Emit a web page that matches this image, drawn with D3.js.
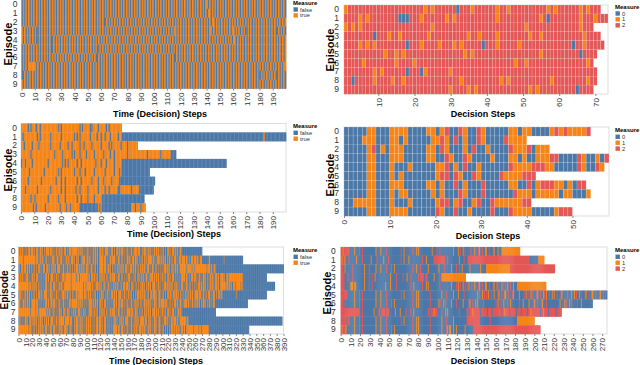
<!DOCTYPE html>
<html>
<head>
<meta charset="utf-8">
<script src="https://cdn.jsdelivr.net/npm/d3@7"></script>
<style>
  body { margin: 0; background: #fff; }
  svg { display: block; font-family: "Liberation Sans", Arial, sans-serif; }
</style>
</head>
<body>
<svg id="chart" width="640" height="365"></svg>
<script>
// episodes on the y axis, measure values in the legends
var episodes = ["0", "1", "2", "3", "4", "5", "6", "7", "8", "9"];
var binaryLabels = ["false", "true"];
var triLabels = ["0", "1", "2"];

// one string per episode: b = false / 0, o = true / 1, r = 2, optional run length after the letter
var p1Rows = [
  "bobobobobo bobobobobo bobobobobo bobobobobo bobobobobo bobobobobo bobobobobo bobobobobo bobobobobo bobobobobo" +
  "bobobobobo bobobobobo bobobobobo bobobobobo obobobobob obobobobob obobobobob obobobobob obobobobob obobobobob",
  "bobobobobo bobobobobo bobobobobo bobobobobo bobobobobo bobobobobo bobobobobo bobobobobo bobobobobo bobobobobo" +
  "bobobobobo bobobobobo bobobobobo bobobobobo boobobobob obobobobob obobobobob obobobobob obobobobob obobobobob",
  "bobobobobo bobobobobo bobobobobo bobobobobo bobobobobo bobobobobo bobbobobob obobobobob obobobobob obobobobob" +
  "obobobobob obobobobob obobobobob obobobobob oboboobobo bobobobobo bobobobobo bobobobobo bobobobobo bobobobobo",
  "obobobobob obbobobobo bobobobobo bobobobobo bobobobobo bobobobobo bobobobobo bobobobobo bobobobobo bobobobobo" +
  "bobobobobo boboboobob obobobobob obobobobob oboobobobo bobobobobo obobobobob bobobobobo bobobobobo bobbobobob",
  "obobobobob obbobobobo bobbobobob obobobobob obobobobob obobobobob obobobobob obobobobob obobobobob obobobobob" +
  "obobobobob obobobobob obobobobob obobobobob obobobobob obobobobob oobobobobo bobobobobo bobobobobo bobobobobo",
  "bobobobobo bobobobobo bobbobobob obobobobob obobobobob obobobobbo bobobobobo bobobobobo bobobobobo bobobobobo" +
  "bobobobobo bobobobobo bobobobobo bobobobobo bobobobobo bobobobobo bobobobobo bobobobobo bobobobobo bobobobobo",
  "bobobobobo bobobobobo bobobobobo bobobobobo bobobobobo bobobobbob obobobobob obobobobob obobobobob obobobobob" +
  "obobobobob obobobbobo bobobobobo bobobobobo bobobobobo bobobobobo bobobobobo bobobobobo bobobobobo bobobobobo",
  "bobobooooo obobobobob obobobobob obobobobob obobobobob obobobobob obobobobob obobobobob obobobobob obobobobob" +
  "obobobobob obobobobob obobobobob obobobobob obobobobob obobobobob obobobobob obobobobob obobobobob oboboboboo",
  "bbobobobob obobobobob obobobobob obobobobob obobobobob obobobobob obobobobob obobobobob obobobobob obobobobob" +
  "obobobobob obobobobob obobobobob obobobobob obobobobob obobobobob obobobobob obobobobob bobobobobo bobbobobob",
  "obobobobob obobobobob obobobobob obobobobob obobobobob obobobobob obobobobob obobobobob obobobobob obobobobob" +
  "obobobobob obobobobob obobobobob obobobobob obobobobob obobobobob obobobobob obobobobob obobobobob obobobobob"
];

var p2Rows = [
  "o r21 o r o r6 b r3 o r6 o r2 o r10 o r o r6 o r o r3",
  "r4 o r o r8 b3 r3 o r6 o r o r11 o r11 o r b r8 o r3 o r3",
  "o r o r o r19 o r25 o r14 o r3",
  "r8 b r3 o r2 o r7 o r10 o r2 o r4 o r8 o r2 o r11 o r4",
  "r4 o r o r o r8 b r3 o r4 o r3 o r o r5 b r3 o r5 o r14 b r2 o r5",
  "r11 o r2 o r o r16 o r o r18 o r10 b r4",
  "r5 o r8 o r4 o r27 o r2 o r16 o r",
  "r8 o r o r6 b r3 b o r6 o r40",
  "r2 b r5 o r4 o r2 o r15 o r10 o r o r11 o r9 o r2",
  "r29 o r4 o r o r14 o r o r10 b r4"
];

var p3Rows = [
  "o5 b o b o3 b o2 b o13 b o b o13 b o b o5 b b o4 b o5 b o b o9",
  "o b o10 b o b o7 b o7 b o9 b o b o b o7 b o4 b o2 b o2 b o3 b o5 b o2 b107 o b16",
  "o2 b o5 b o4 b o8 b o6 b o5 b o2 b o5 b o2 b o5 b o6 b o5 b o b o6 b o4 b o7",
  "o7 b o17 b o5 b o6 b o b o3 b o4 b o5 b o6 b o4 b o2 b o9 b o14 b o9 b o7 b4",
  "b o2 b o4 b o11 b o10 b o b o b o6 b o2 b o10 b o3 b o3 b o5 b o5 b79",
  "o6 b o10 b o10 b o b o9 b o3 b o3 b o6 b o7 b o6 b o3 b o b21",
  "o5 b o9 b o10 b o3 b o2 b o8 b o2 b o7 b o4 b o3 b o5 b o5 b27",
  "o3 b o8 b o9 b o7 b o2 b o7 b o2 b o5 b o7 b o4 b o2 b o6 b2 o8 b o5 b11",
  "o7 b o2 b o9 b o7 b o4 b o8 b o2 b o4 b o4 b o5 b32",
  "o9 b o b o6 b o10 b o4 b o2 b o6 b14 o b o b22 o3 b o3 b o3"
];

var p4Rows = [
  "b5 o2 b3 o4 b4 o2 b o r b2 r o b2 r o b5 o2 b o2 b4 o r o r o4 r",
  "b4 o3 b3 o2 b o b5 o2 r o b r b o b2 r o b4 r o4",
  "b5 o r b o b o3 b5 o2 b r o b3 o b r b2 o b4 r o3 r b o3",
  "b5 o2 b3 o3 b5 o2 b2 r o b2 r o b4 o b3 o2 b o b2 o3 r2 b4 r o b2 o b r",
  "b5 o2 b3 o b3 o b5 o2 r b o b r b2 o b6 r o4 r3 o2 b5 r o b2 r o",
  "b5 o2 b3 o b o b7 o r2 b r o b2 r o b4 r o4 r3",
  "b5 o2 b3 o3 b5 o2 b o b2 r b o b3 r b5 o2 b2 r b o r3 o2 b o b r2",
  "b5 o2 b3 o b o2 b5 o b o b3 r o b3 r b6 r o3 b o5 b o2 b3 o",
  "b2 o5 b3 o b3 o b5 o r2 b o r b2 o r b2 r o6 r2",
  "b5 o2 b3 o4 b6 r o b2 r b2 o b4 r b3 r o4 b5 o r3"
];

var p5Rows = [
  "obooboobbo bobboooboo oobobbooob booobobbob ooooobooob obobboobob ooboobbooo bboboooobo oooooooboo boobobobbo " +
  "bobobbobbo obooboobbo ooboobbooo oobobbooob bobboooboo booobobbob obobboobob ooooobooob bboboooobo boobobobbo " +
  "obooboobbo bobobbobbo oobobbooob ooboobbooo b30",
  "oooooooboo oooooooooo ooooobooob obooboobbo bobobbobbo oobobbooob booobobbob ooboobbooo obobboobob bboboooobo " +
  "boobobobbo obooboobbo ooooobooob bobboooboo oobobbooob bobobbobbo ooboobbooo booobobbob obobboobob oooooooboo " +
  "bboboooobo obooboobbo boobobobbo oobobbooob ooooobooob bobboooboo ooboobbooo b10 o2 b20 o b27",
  "bobboooboo obooboobbo bobobbobbo oobobbooob booobobbob ooboobbooo obobboobob boobobobbo bboboooobo obooboobbo " +
  "oobobbooob bobobbobbo ooooobooob booobobbob obobboobob ooboobbooo bobboooboo boobobobbo obooboobbo oobobbooob " +
  "bobobbobbo bboboooobo obobboobob ooboobbooo oooooooboo ooooobooob oooooooooo oooooooboo ooboobbooo b100",
  "obooboobbo booobobbob oobobbooob bobobbobbo ooboobbooo obobboobob bboboooobo oooooooboo ooooobooob oooooooooo " +
  "ooboobbooo boobobobbo obooboobbo bobboooboo oobobbooob bobobbobbo booobobbob obobboobob ooboobbooo bboboooobo " +
  "obooboobbo boobobobbo oobobbooob bobobbobbo ooooobooob bobboooboo obobboobob booobobbob obooboobbo ooboobbooo " +
  "oobobbooob o20 b35",
  "oooooooooo ooooobooob obooboobbo bobobbobbo oobobbooob booobobbob ooboobbooo oooooooboo oooooooooo ooooobooob " +
  "oooooooboo bboboooobo obobboobob boobobobbo obooboobbo bobboooboo oobobbooob bobobbobbo booobobbob ooboobbooo " +
  "obobboobob bboboooobo obooboobbo boobobobbo oobobbooob bobobbobbo bobboooboo booobobbob obooboobbo ooboobbooo " +
  "ooooobooob oobobbooob oooooooboo b47",
  "booobobbob obooboobbo bobobbobbo ooboobbooo oobobbooob obobboobob bboboooobo boobobobbo bobboooboo ooooobooob " +
  "obooboobbo bobobbobbo booobobbob oobobbooob ooboobbooo obobboobob boobobobbo bboboooobo obooboobbo bobboooboo " +
  "oobobbooob bobobbobbo ooboobbooo booobobbob obobboobob obooboobbo ooooobooob boobobobbo oobobbooob bobboooboo " +
  "b20 o b44",
  "oobobbooob obooboobbo ooooobooob bobobbobbo ooboobbooo booobobbob obobboobob bobboooboo oooooooboo boobobobbo " +
  "bboboooobo obooboobbo oobobbooob bobobbobbo ooboobbooo booobobbob obobboobob obooboobbo bobboooboo boobobobbo " +
  "oobobbooob ooooobooob bobobbobbo ooboobbooo bboboooobo obobboobob obooboobbo booobobbob oobobbooob b47",
  "oooooooooo oooooooboo ooooobooob oooooooooo obooboobbo bobobbobbo oobobbooob booobobbob ooboobbooo obobboobob " +
  "bboboooobo boobobobbo obooboobbo bobboooboo oobobbooob bobobbobbo ooooobooob booobobbob obobboobob ooboobbooo " +
  "obooboobbo boobobobbo oobobbooob bobboooboo b50",
  "bobobbobbo oobobbooob obooboobbo booobobbob ooboobbooo obobboobob oooooooboo ooooobooob bboboooobo boobobobbo " +
  "obooboobbo bobboooboo oobobbooob bobobbobbo booobobbob ooboobbooo obobboobob obooboobbo ooooobooob boobobobbo " +
  "oobobbooob bboboooobo bobboooboo ooboobbooo oooooooboo b138",
  "oooooooooo ooooobooob bobobbobbo obooboobbo oobobbooob booobobbob ooboobbooo obobboobob bboboooobo boobobobbo " +
  "obooboobbo bobboooboo oobobbooob bobobbobbo ooooobooob booobobbob obobboobob ooboobbooo obooboobbo boobobobbo " +
  "oobobbooob bobobbobbo bboboooobo obooboobbo ooboobbooo oooooooboo ooooobooob oooooooooo b59"
];

var p6Rows = [
  "rrorrrrrrb bbbbobbbbr bbrbbbbbbb bbbbbbobbb bobbbbbrbb bbbbbbbbbb bbrbbobbbb bbbbrbbbob obbbbbbbbb bbbbobbbbr " +
  "bbrbbbbbbb bbbbbbobbb bobrbbobrb bbbbrbbbob bbrobbrbbo obbrbbbrob bbobbb o19",
  "rorrobbbrb bbbbbbobbb bbrbbbbbbb bobbbbbrbb bbbbobbbbr bbbbbbbbbb bbrbbobbbb obbbbbbbbb bbbbrbbbob bbbbbb r12 " +
  "bbrbbbbbbb bbbbobbbbr bbb r64 b9 o6",
  "rrrbobbbbb bbrbbbbbbb bbbbobbbbr bbbbbbobbb bobbbbbrbb bbrbbobbbb bbbbbbbbbb bbbbrbbbob bbrbbbbbbb obbbbbbbbb " +
  "bobbbbbrbb bbbbobbbbr bbrbbobbbb bbbobbbbbb bbbbobbbbb o25 r46",
  "rrrrbbbrbb bbrbbbbbbb bbbbobbbbr bbrbbobbbb bbbbbbbbbb bobbbbbrbb bbbbrbbbob bbrbbbbbbb rbrrrrbrrr bbbbbbobbb " +
  "bbrb o25",
  "rrrrbbbbbb oooboobbbb bbbbobbbbr bbrbbbbbbb bbbbbbobbb bobbbbbrbb bbbbbbbbbb bbrbbobbbb bbbbrbbbob obbbbbbbbb " +
  "bbrbbbbbbb bbbbobbbbr bobrbbobrb rbobbrbbob bbrobbrbbo obbrbbbrob bobrbbobrb rbobbrbbob bb o30",
  "rrrrrrrbbb bbbbobbbbr bbrbbbbbbb bbbbbbobbb bobbbbbrbb bbbbbbbbbb bbrbbobbbb bbbbrbbbob obbbbbbbbb bbrbbbbbbb " +
  "bbbbobbbbr bbbbbbobbb bobbbbbrbb bbbbbbbbbb bobrbbobrb rbobbrbbob bbrobbrbbo obbrbbbrob bbbbobbbbr bobrbbobrb " +
  "bbrobbrbbo rbobbrbbob obbrbbbrob bbbbrbbbob bobrbbobrb bbrobbrbbo obbrbbbrob brbrb",
  "rrrbrbbbbb bbbbobbbbr bbrbbbbbbb bbbbbbobbb bobbbbbrbb bbrbbobbbb bbbbbbbbbb bbbbrbbbob obbbbbbbbb bbrbbbbbbb " +
  "bobrbbobrb bbbbobbbbr bbbbbbobbb bbrobbrbbo bobbbbbrbb bbbbbbbbbb rbobbrbbob bbrbbobbbb bbbbrbbbob bbbbobbbbr " +
  "obbrbbbrob bbrbbbbbbb bbbbbbobbb bobrbbobrb bbbbrbbbob bbbbbbbbbb",
  "r20 bbrbbbbbbb bbbbobbbbr rbrrrrbrrr bbbbbbobbb bobbbbbrbb bbrbbobbbb bbbbbbbbbb rrbrrrorrr bbbbrbbbob " +
  "obbbbbbbbb bbrbbbbbbb rrbrrrorrr rrrrbrrrrr rbrrrrbrrr rrrrrrbrro rrrrbrrrrr rbrrrrbrrr rrbrrrorrr rrrrrrbrro " +
  "rrrrbrrrrr rrbrrrrr",
  "rrrrrrbrrb bbbbobbbbr bbrbbbbbbb bbbbbbobbb bobbbbbrbb bbbbbbbbbb bbrbbobbbb bbbbrbbbob obbbbbbbbb bbrbbbbbbb " +
  "bbbbobbbbr bbbbbbobbb bbbbbbbbbb r14 b10 r b27 o18",
  "rorrrobbbb bbbbobbbbr bbrbbbbbbb bbbbbbobbb bobbbbbrbb bbrbbobbbb bbbbbbbbbb bbbbrbbbob obbbbbbbbb bbrbbbbbbb " +
  "bbbbobbbbr oboobbobbo b8 o b8 r69"
];

// tick labels
var ticks0to190 = [0, 10, 20, 30, 40, 50, 60, 70, 80, 90, 100, 110, 120, 130, 140, 150, 160, 170, 180, 190];
var ticks10to70 = [10, 20, 30, 40, 50, 60, 70];
var ticks0to50 = [0, 10, 20, 30, 40, 50];
var ticks0to390 = [0, 10, 20, 30, 40, 50, 60, 70, 80, 90, 100, 110, 120, 130, 140, 150, 160, 170, 180, 190,
  200, 210, 220, 230, 240, 250, 260, 270, 280, 290, 300, 310, 320, 330, 340, 350, 360, 370, 380, 390];
var ticks0to270 = [0, 10, 20, 30, 40, 50, 60, 70, 80, 90, 100, 110, 120, 130, 140, 150, 160, 170, 180, 190,
  200, 210, 220, 230, 240, 250, 260, 270];

var svg = d3.select("#chart");
var color = d3.scaleOrdinal().domain([0, 1, 2]).range(["#4c78a8", "#f58518", "#e45756"]);

function decode(row) {
  var out = [];
  row.replace(/\s+/g, "").replace(/([bor])(\d*)/g, function(m, c, n) {
    var k = n ? +n : 1;
    for (var i = 0; i < k; i++) out.push("bor".indexOf(c));
    return m;
  });
  return out;
}

function panel(cfg) {
  var g = svg.append("g");
  var x = d3.scaleLinear().domain(cfg.domain).range([cfg.x0, cfg.x1]);
  var y = d3.scaleBand().domain(episodes).range([cfg.y0, cfg.y1]);

  g.append("rect")
    .attr("x", cfg.x0).attr("y", cfg.y0)
    .attr("width", cfg.x1 - cfg.x0).attr("height", cfg.y1 - cfg.y0)
    .attr("fill", "none").attr("stroke", "#ddd");

  var cells = [];
  cfg.rows.forEach(function(row, ep) {
    decode(row).forEach(function(v, i) {
      cells.push({ep: episodes[ep], step: cfg.first + i, v: v});
    });
  });

  // dense panels: a small overlap hides the anti-aliasing seams between neighbouring cells
  var rects = g.append("g").selectAll("rect")
    .data(cells)
    .join("rect")
      .attr("x", function(d) { return x(d.step + cfg.off); })
      .attr("width", function(d) { return x(d.step + cfg.off + 1) - x(d.step + cfg.off) + cfg.ov; })
      .attr("y", function(d) { return y(d.ep); })
      .attr("height", y.bandwidth() + 0.2)
      .attr("fill", function(d) { return color(d.v); });
  if (cfg.sw > 0) {
    rects.attr("stroke", "#fff")
      .attr("stroke-width", cfg.sw)
      .attr("stroke-opacity", 0.3);
  }

  var xa = g.append("g")
    .attr("transform", "translate(0," + cfg.y1 + ")")
    .call(d3.axisBottom(x).tickValues(cfg.ticks).tickSize(2).tickFormat(d3.format("d")));
  xa.select(".domain").remove();
  xa.selectAll(".tick line").attr("stroke", "#888");
  xa.selectAll("text")
    .attr("transform", "rotate(-90)")
    .attr("text-anchor", "end")
    .attr("x", -4).attr("y", 0).attr("dy", "0.35em")
    .attr("fill", "#333")
    .style("font-size", "8px");

  var ya = g.append("g")
    .attr("transform", "translate(" + cfg.x0 + ",0)")
    .call(d3.axisLeft(y).tickSize(0).tickPadding(cfg.ypad));
  ya.select(".domain").remove();
  ya.selectAll("text").attr("fill", "#333").style("font-size", "8.5px");

  g.append("text")
    .attr("x", cfg.tx).attr("y", cfg.ty)
    .attr("text-anchor", "middle")
    .style("font-size", "9px").style("font-weight", "bold")
    .text(cfg.xtitle);

  g.append("text")
    .attr("transform", "translate(" + cfg.ex + "," + cfg.ey + ") rotate(-90)")
    .attr("text-anchor", "middle").attr("dy", "0.35em")
    .style("font-size", cfg.efs + "px").style("font-weight", "bold")
    .text("Episode");

  var lg = g.append("g").attr("transform", "translate(" + cfg.lx + "," + cfg.ly + ")");
  lg.append("text").attr("y", 2.2)
    .style("font-size", "6px").style("font-weight", "bold")
    .text("Measure");
  var item = lg.selectAll("g.item").data(cfg.labels).join("g")
    .attr("class", "item")
    .attr("transform", function(d, i) { return "translate(0," + (6.8 + i * 5.9) + ")"; });
  item.append("rect")
    .attr("x", 0.5).attr("y", -2.2).attr("width", 4.4).attr("height", 4.4)
    .attr("fill", function(d, i) { return color(i); });
  item.append("text")
    .attr("x", 7).attr("dy", "0.35em")
    .attr("fill", "#333")
    .style("font-size", "5.8px")
    .text(function(d) { return d; });
}

panel({rows: p1Rows, first: 0, off: 0, domain: [0, 200], x0: 21.5, x1: 286, y0: 0, y1: 88.6, sw: 0, ov: 0.35,
  ticks: ticks0to190, ypad: 4, xtitle: "Time (Decision) Steps", tx: 160, ty: 116.5,
  ex: 8, ey: 44, efs: 11, lx: 293, ly: 2.7, labels: binaryLabels});
panel({rows: p2Rows, first: 1, off: -0.5, domain: [0.5, 73.5], x0: 344, x1: 608, y0: 5, y1: 94, sw: 0.5, ov: 0,
  ticks: ticks10to70, ypad: 5, xtitle: "Decision Steps", tx: 483, ty: 116.5,
  ex: 330, ey: 50, efs: 11, lx: 615, ly: 6.7, labels: triLabels});
panel({rows: p3Rows, first: 0, off: 0, domain: [0, 200], x0: 21, x1: 286, y0: 123.5, y1: 212, sw: 0, ov: 0.35,
  ticks: ticks0to190, ypad: 4, xtitle: "Time (Decision) Steps", tx: 174, ty: 236.5,
  ex: 8, ey: 170, efs: 11, lx: 293, ly: 126, labels: binaryLabels});
panel({rows: p4Rows, first: 0, off: 0, domain: [0, 58], x0: 344, x1: 609, y0: 127, y1: 216, sw: 0.5, ov: 0,
  ticks: ticks0to50, ypad: 5, xtitle: "Decision Steps", tx: 488, ty: 239,
  ex: 330, ey: 175, efs: 11, lx: 615, ly: 130, labels: triLabels});
panel({rows: p5Rows, first: 0, off: 0, domain: [0, 390], x0: 18.5, x1: 283.5, y0: 247, y1: 334, sw: 0, ov: 0.4,
  ticks: ticks0to390, ypad: 3, xtitle: "Time (Decision) Steps", tx: 156, ty: 363.5,
  ex: 4.5, ey: 290, efs: 10, lx: 293, ly: 250, labels: binaryLabels});
panel({rows: p6Rows, first: 0, off: 0, domain: [0, 275], x0: 340.7, x1: 607, y0: 247, y1: 334, sw: 0, ov: 0.4,
  ticks: ticks0to270, ypad: 5, xtitle: "Decision Steps", tx: 483, ty: 364,
  ex: 327, ey: 293, efs: 11, lx: 615, ly: 250, labels: triLabels});
</script>
</body>
</html>
